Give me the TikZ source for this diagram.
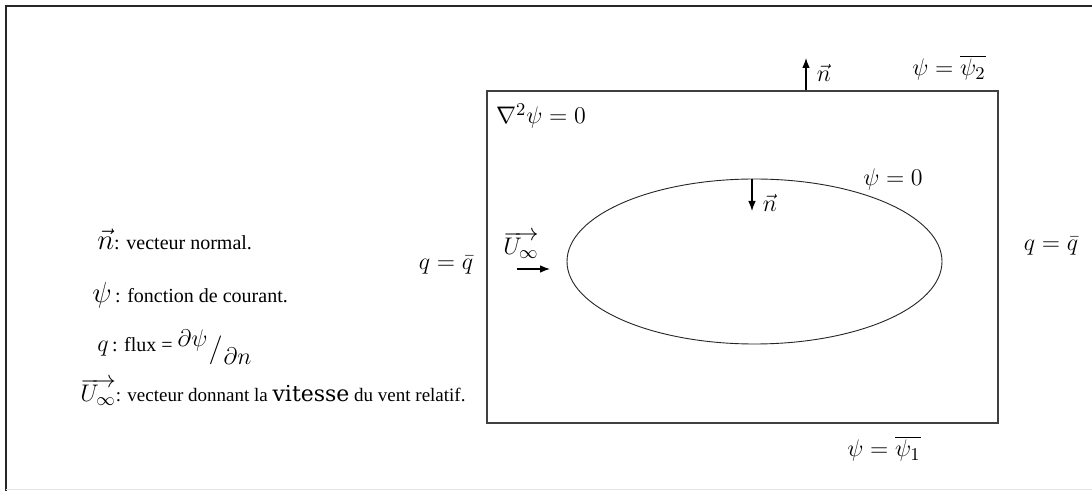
\documentclass[tikz,border=0pt]{standalone}
\usepackage{fontspec}
\setmainfont{Liberation Serif}
\newfontfamily\vitfont{DejaVu Serif}
\usetikzlibrary{shapes.geometric,arrows.meta}
\begin{document}
\begin{tikzpicture}[x=0.5pt,y=-0.5pt,
  lab/.style={inner sep=0pt, font=\fontsize{13}{15}\selectfont},
  leg/.style={inner sep=0pt, anchor=base west, font=\fontsize{10}{12}\selectfont},
  arr/.style={-{Latex[length=5pt,width=3.8pt]}, line width=0.6pt, black}]
\useasboundingbox (0,0) rectangle (1092,491);
\fill[white] (0,0) rectangle (1092,491);
% outer frame
\draw[line width=1.2pt, black!85] (6,491) -- (6,6) -- (1092,6);
\draw[black!10, line width=0.5pt] (6,489) -- (1092,489);
% domain and body
\node[draw=black!75, line width=0.7pt, minimum width=255.5pt, minimum height=166pt, inner sep=0pt] (domain) at (742.5,257) {};
\node[draw=black!85, line width=0.45pt, ellipse, minimum width=187.5pt, minimum height=82.5pt, inner sep=0pt] (body) at (754.5,261.5) {};
% normals
\coordinate (ntopend) at (806,58);
\draw[arr] (domain.north -| ntopend) -- (ntopend);
\coordinate (ninend) at (752,211);
\draw[arr] (body.north -| ninend) -- (ninend);
% free stream arrow
\coordinate (ua) at (517,269);
\coordinate (ub) at (550,269);
\draw[arr] (ua) -- (ub);
% labels
\node[lab] (psitwo) at (949,68) {$\psi = \overline{\psi_2}$};
\node[lab] (ntop) at (824,73) {$\vec{n}$};
\node[lab] (lap) at (541,116) {$\nabla^2\psi = 0$};
\node[lab] (psizero) at (893,180) {$\psi = 0$};
\node[lab] (ninlab) at (770,203) {$\vec{n}$};
\node[lab] (uinf) at (521,245) {$\overrightarrow{U_\infty}$};
\node[lab] (qleft) at (446,265) {$q = \bar{q}$};
\node[lab] (qright) at (1051,246) {$q = \bar{q}$};
\node[lab] (psione) at (884,449) {$\psi = \overline{\psi_1}$};
% legend
\node[leg] (l1) at (97,250) {{\fontsize{13.5}{15}\selectfont$\vec{n}$}: vecteur normal.};
\node[leg] (l2) at (92,303) {{\fontsize{13.5}{15}\selectfont$\psi$}\,: fonction de courant.};
\node[leg] (l3) at (97,352) {{\fontsize{13}{15}\selectfont$q$}\,: flux = {\fontsize{12.5}{15}\selectfont\raisebox{2.5pt}{$\partial\psi$}\kern0.5pt\raisebox{-3pt}{\fontsize{15}{15}\selectfont$/$}\kern0.5pt\raisebox{-6.5pt}{$\partial n$}}};
\node[leg] (l4) at (80,402) {{\fontsize{13}{14}\selectfont$\overrightarrow{U_\infty}$}{\fontsize{9.5}{12}\selectfont: vecteur donnant la {\vitfont\fontsize{11}{12}\selectfont vitesse} du vent relatif.}};
\end{tikzpicture}
\end{document}
